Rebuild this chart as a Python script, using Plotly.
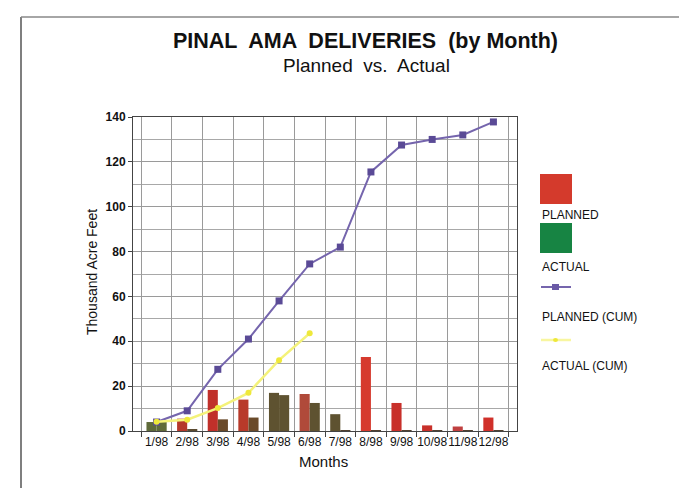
import plotly.graph_objects as go

months = ["1/98", "2/98", "3/98", "4/98", "5/98", "6/98", "7/98", "8/98", "9/98", "10/98", "11/98", "12/98"]
planned = [4, 5.5, 18.3, 14, 17, 16.5, 7.5, 33, 12.5, 2.5, 2, 6]
actual = [4.2, 0.8, 5.2, 6, 16, 12.5, 0.2, 0.3, 0.3, 0.3, 0.3, 0.3]
planned_cum = [4, 9, 27.5, 41, 58, 74.5, 82, 115.5, 127.5, 130, 132, 137.8]
actual_cum_months = ["1/98", "2/98", "3/98", "4/98", "5/98", "6/98"]
actual_cum = [4.1, 5, 10.2, 17, 31.6, 43.6]

# per-bar colours as they appear in the scanned reference
planned_colors = ["#5f6a3a", "#b5382a", "#c0302a", "#b83a2a", "#5e5230", "#b04a3a",
                  "#5e5230", "#d63a2e", "#c8302a", "#c8302a", "#c04040", "#d0302a"]
actual_colors = ["#5f6a3a", "#5a4a30", "#6a4a2a", "#6a4a2a", "#5e5230", "#5e5230",
                 "#504030", "#504030", "#504030", "#504030", "#504030", "#504030"]

OFF = 8  # page body margin
W, H = 687 - OFF, 488 - OFF
L, R, T, B = 133, 517, 117, 431  # screen pixel positions of the plot area
def px(x):
    return (x - L) / (R - L)
def py(y):
    return (B - y) / (B - T)

fig = go.Figure()
fig.add_trace(go.Bar(x=months, y=planned, name="PLANNED", marker=dict(color=planned_colors, line=dict(width=0))))
fig.add_trace(go.Bar(x=months, y=actual, name="ACTUAL", marker=dict(color=actual_colors, line=dict(width=0))))
fig.add_trace(go.Scatter(x=months, y=planned_cum, name="PLANNED (CUM)", mode="lines+markers",
                         line=dict(color="#7565ad", width=2),
                         marker=dict(symbol="square", size=7, color="#5a4a96")))
fig.add_trace(go.Scatter(x=actual_cum_months, y=actual_cum, name="ACTUAL (CUM)", mode="lines+markers",
                         line=dict(color="#f4f27a", width=2.5),
                         marker=dict(symbol="circle", size=6, color="#eee83a")))

font = "Liberation Sans, Arial, sans-serif"
fig.update_layout(
    width=W, height=H,
    margin=dict(l=L - OFF, r=687 - R, t=T - OFF, b=488 - B, autoexpand=False),
    paper_bgcolor="white", plot_bgcolor="white",
    barmode="group", bargap=0.34, bargroupgap=0,
    showlegend=False,
    font=dict(family=font, color="#111"),
)
fig.update_xaxes(type="category", tickson="boundaries", ticks="outside", ticklen=5, tickcolor="#444",
                 tickangle=0, automargin=False,
                 showgrid=True, gridcolor="#9a9a9a", gridwidth=1,
                 showline=True, linecolor="#444", linewidth=1, mirror=True,
                 tickfont=dict(family=font, size=12, color="#111"))
fig.update_yaxes(range=[0, 140], dtick=20, ticks="outside", ticklen=4, tickcolor="#444",
                 automargin=False,
                 showgrid=True, gridcolor="#9a9a9a", gridwidth=1,
                 minor=dict(dtick=10, showgrid=True, gridcolor="#a8a8a8", gridwidth=1),
                 showline=True, linecolor="#444", linewidth=1, mirror=True, zeroline=False,
                 tickfont=dict(family=font, size=12, color="#111", weight="bold"))

ann = [
    dict(text="<b>PINAL  AMA  DELIVERIES  (by Month)</b>", x=px(365), y=py(41), size=21.5),
    dict(text="Planned  vs.  Actual", x=px(366), y=py(66), size=19),
    dict(text="Months", x=px(323), y=py(461), size=15),
]
for a in ann:
    fig.add_annotation(text=a["text"], x=a["x"], y=a["y"], xref="paper", yref="paper",
                       showarrow=False, xanchor="center", yanchor="middle",
                       font=dict(family=font, size=a["size"], color="#111"))
fig.add_annotation(text="Thousand Acre Feet", x=px(92), y=py(272), xref="paper", yref="paper",
                   showarrow=False, textangle=-90, xanchor="center", yanchor="middle",
                   font=dict(family=font, size=14, color="#111"))

# frame of the page
fig.add_shape(type="line", xref="paper", yref="paper", x0=px(21), x1=px(21), y0=py(17), y1=py(488),
              line=dict(color="#555", width=1.5))
fig.add_shape(type="line", xref="paper", yref="paper", x0=px(21), x1=px(687), y0=py(17), y1=py(17),
              line=dict(color="#888", width=1.5))

# manual legend
fig.add_shape(type="rect", xref="paper", yref="paper", x0=px(540), x1=px(572), y0=py(174), y1=py(204),
              fillcolor="#d43a2c", line=dict(width=0))
fig.add_shape(type="rect", xref="paper", yref="paper", x0=px(540), x1=px(572), y0=py(223), y1=py(253),
              fillcolor="#178443", line=dict(width=0))
fig.add_shape(type="line", xref="paper", yref="paper", x0=px(541), x1=px(571), y0=py(287), y1=py(287),
              line=dict(color="#7565ad", width=2))
fig.add_shape(type="rect", xref="paper", yref="paper", x0=px(552), x1=px(559), y0=py(284), y1=py(290),
              fillcolor="#6a5aa6", line=dict(width=0))
fig.add_shape(type="line", xref="paper", yref="paper", x0=px(541), x1=px(571), y0=py(340), y1=py(340),
              line=dict(color="#f8f6a0", width=2.5))
fig.add_shape(type="circle", xref="paper", yref="paper", x0=px(553), x1=px(558), y0=py(338), y1=py(342),
              fillcolor="#eee83a", line=dict(width=0))
for txt, yy in [("PLANNED", 215), ("ACTUAL", 267), ("PLANNED (CUM)", 317), ("ACTUAL (CUM)", 366)]:
    fig.add_annotation(text=txt, x=px(540), y=py(yy), xref="paper", yref="paper", showarrow=False,
                       xanchor="left", yanchor="middle",
                       font=dict(family=font, size=12, color="#111"))

fig.write_html("out.html")
